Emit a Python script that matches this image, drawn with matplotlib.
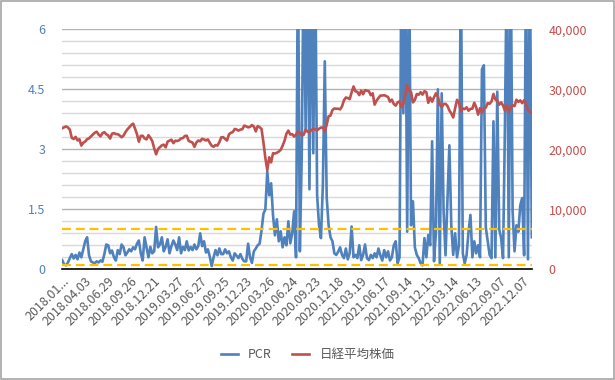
import numpy as np
import matplotlib.pyplot as plt
from matplotlib.patches import Rectangle
from matplotlib.ticker import FuncFormatter, MultipleLocator

plt.rcParams['font.family'] = ['Noto Sans CJK JP', 'DejaVu Sans']

# trading-day index axis, one sample every 5 trading days
step = 5
n_days = 1226

tick_labels = ['2018.01...', '2018.04.03', '2018.06.29', '2018.09.26', '2018.12.21',
               '2019.03.27', '2019.06.27', '2019.09.25', '2019.12.23', '2020.03.26',
               '2020.06.24', '2020.09.23', '2020.12.18', '2021.03.19', '2021.06.17',
               '2021.09.14', '2021.12.13', '2022.03.14', '2022.06.13', '2022.09.07',
               '2022.12.07']
tick_every = 60

pcr = [
    0.23, 0.12, 0.10, 0.17, 0.28, 0.38, 0.27, 0.36, 0.25, 0.42, 0.30, 0.50,
    0.70, 0.80, 0.35, 0.20, 0.17, 0.15, 0.20, 0.17, 0.22, 0.19, 0.38, 0.62,
    0.60, 0.40, 0.47, 0.30, 0.22, 0.48, 0.38, 0.62, 0.55, 0.35, 0.42, 0.50,
    0.45, 0.55, 0.50, 0.64, 0.72, 0.40, 0.22, 0.80, 0.55, 0.30, 0.56, 0.40,
    0.45, 1.06, 0.55, 0.62, 0.80, 0.45, 0.56, 0.75, 0.40, 0.58, 0.72, 0.62,
    0.48, 0.80, 0.40, 0.56, 0.48, 0.70, 0.47, 0.56, 0.48, 0.62, 0.50, 0.58,
    0.90, 0.58, 0.70, 0.42, 0.50, 0.32, 0.08, 0.30, 0.48, 0.35, 0.52, 0.38,
    0.38, 0.50, 0.40, 0.45, 0.30, 0.22, 0.40, 0.34, 0.28, 0.38, 0.26, 0.20,
    0.20, 0.64, 0.30, 0.16, 0.45, 0.52, 0.60, 0.64, 0.97, 1.39, 1.50, 2.45,
    1.85, 2.15, 1.35, 0.85, 1.25, 0.70, 0.95, 0.55, 0.80, 0.60, 1.20, 0.65,
    0.90, 1.45, 0.30, 8.00, 0.45, 2.90, 8.00, 3.50, 8.00, 2.00, 8.00, 2.90,
    8.00, 1.86, 1.10, 0.78, 2.10, 5.20, 1.80, 1.10, 0.80, 0.70, 0.40, 0.36,
    0.44, 0.55, 0.36, 0.28, 0.52, 0.25, 0.40, 1.07, 0.30, 0.36, 0.28, 0.60,
    0.23, 0.36, 0.62, 0.28, 0.23, 0.36, 0.28, 0.40, 0.30, 0.52, 0.35, 0.22,
    0.48, 0.30, 0.45, 0.22, 0.30, 0.60, 0.70, 0.15, 0.30, 8.00, 3.90, 8.00,
    0.94, 8.00, 1.10, 1.70, 0.55, 0.36, 0.28, 0.15, 0.10, 0.78, 0.30, 0.86,
    0.60, 3.20, 0.20, 0.94, 4.50, 0.15, 4.40, 1.44, 0.35, 1.70, 3.10, 1.10,
    0.36, 0.90, 0.30, 0.60, 8.00, 0.40, 0.15, 0.36, 0.94, 1.36, 0.30, 0.70,
    0.40, 0.60, 0.30, 5.00, 5.10, 1.05, 0.70, 0.36, 0.28, 3.70, 0.30, 4.44,
    1.00, 0.78, 0.28, 3.60, 8.00, 0.30, 8.00, 1.44, 0.45, 1.10, 0.94, 1.60,
    1.78, 0.35, 8.00, 0.25, 8.00, 0.80,
]

nikkei = [
    23510, 23650, 23810, 23630, 23270, 21900, 21720, 22070, 21470, 21680, 20620, 21100,
    21290, 21680, 21830, 22160, 22470, 22760, 22930, 22450, 22170, 22690, 22850, 22510,
    22300, 21790, 22600, 22700, 22540, 22520, 22300, 22000, 22270, 22870, 23310, 23670,
    24030, 24270, 23470, 22530, 21270, 22240, 22250, 21810, 21650, 22350, 21920, 21370,
    20170, 19160, 20040, 20360, 20670, 20770, 20330, 21280, 21430, 21600, 21030, 21430,
    21380, 21510, 21810, 21870, 22220, 22260, 21400, 21250, 21120, 20410, 21130, 21460,
    21340, 21750, 21640, 21470, 21660, 21090, 20590, 20420, 20710, 20620, 21200, 22000,
    22020, 21750, 21460, 22490, 22750, 22870, 23390, 23300, 23110, 23290, 23350, 23950,
    23820, 23660, 23740, 24040, 23800, 22980, 23870, 23690, 23390, 21140, 18560, 16550,
    18660, 17820, 19350, 19290, 19430, 19620, 19910, 20600, 21420, 22610, 23120, 22460,
    22530, 22120, 22440, 22950, 22750, 22340, 22420, 23290, 22920, 22880, 23200, 23400,
    23350, 23190, 23420, 23620, 23640, 22980, 24100, 25520, 25630, 26540, 26800, 26760,
    26760, 26660, 27160, 28160, 28630, 28550, 28360, 29500, 30470, 29670, 29560, 29040,
    29790, 29180, 29850, 29770, 29680, 29020, 29330, 27450, 28100, 28550, 28950, 28960,
    29020, 28880, 28710, 27940, 28280, 27550, 27280, 27820, 27980, 27010, 27640, 29130,
    30670, 29840, 29540, 27820, 28230, 29220, 29100, 29520, 29110, 29690, 29500, 27750,
    28640, 27940, 28680, 29330, 28770, 27470, 27010, 27530, 27580, 27230, 26480, 25980,
    25310, 26830, 28250, 27790, 26330, 26800, 26700, 27000, 26430, 26740, 26780, 27760,
    26990, 25770, 26870, 26150, 26810, 26960, 27700, 27590, 27990, 29220, 28310, 28090,
    27430, 27820, 27310, 26420, 27310, 26240, 27010, 27350, 27200, 28260, 27900, 28160,
    27690, 28160, 27530, 26570, 26240, 26100,
]

ref_lines = [1.0, 0.1]

blue = '#4f81bd'
red = '#c0504d'
gold = '#ffc000'

x = np.arange(len(pcr)) * step

fig = plt.figure(figsize=(6.15, 3.8), dpi=100)
ax = fig.add_axes([0.1008, 0.2913, 0.7642, 0.6316])
ax2 = ax.twinx()

ax.plot(x, pcr, color=blue, lw=1.9, solid_joinstyle='round', label='PCR')
for v in ref_lines:
    ax.axhline(v, color=gold, lw=1.6, ls=(0, (4, 2.2)), zorder=3)
ax2.plot(x, nikkei, color=red, lw=1.9, solid_joinstyle='round', label='日経平均株価')

ax.set_xlim(-0.5, n_days - 0.5)
ax.set_ylim(0, 6)
ax2.set_ylim(0, 40000)

ax.yaxis.set_major_locator(MultipleLocator(1.5))
ax.yaxis.set_minor_locator(MultipleLocator(0.3))
ax.grid(which='major', axis='y', color='#b3b3b3', lw=1.0)
ax.grid(which='minor', axis='y', color='#d9d9d9', lw=1.0)
ax.set_axisbelow(True)
ax.yaxis.set_major_formatter(FuncFormatter(lambda v, p: f'{v:g}'))

ax2.yaxis.set_major_locator(MultipleLocator(10000))
ax2.yaxis.set_major_formatter(FuncFormatter(lambda v, p: f'{int(v):,}'))

ax.set_xticks(np.arange(len(tick_labels)) * tick_every)
ax.set_xticklabels(tick_labels, rotation=45, ha='right', rotation_mode='anchor',
                   fontsize=9, color='#595959')

for a in (ax, ax2):
    for s in a.spines.values():
        s.set_visible(False)
ax.spines['bottom'].set_visible(True)
ax.spines['bottom'].set_color('black')
ax.spines['bottom'].set_linewidth(1.2)

ax.tick_params(axis='y', which='both', length=0, pad=12, labelsize=9, labelcolor=blue)
ax.tick_params(axis='x', length=0, pad=4)
ax2.tick_params(axis='y', length=0, pad=12, labelsize=9, labelcolor=red)

h1, l1 = ax.get_legend_handles_labels()
h2, l2 = ax2.get_legend_handles_labels()
fig.legend(h1 + h2, l1 + l2, loc='center', bbox_to_anchor=(0.5, 0.066), ncol=2,
           frameon=False, fontsize=9, handlelength=1.4, columnspacing=1.6,
           labelcolor='#595959')

fig.patches.append(Rectangle((0.001, 0.002), 0.997, 0.996, transform=fig.transFigure,
                             fill=False, edgecolor='#a6a6a6', lw=1.2))

fig.savefig('out.png', dpi=100)
